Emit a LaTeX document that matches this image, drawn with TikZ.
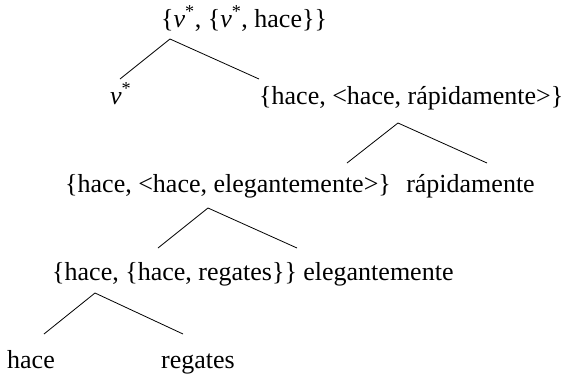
\documentclass[tikz,border=0pt]{standalone}
\usepackage{fontspec}
\setmainfont{Liberation Serif}
\usepackage{tikz}
\usetikzlibrary{positioning}

\newcommand{\vstar}{\textit{v}\textsuperscript{*}}

\begin{document}
\begin{tikzpicture}[
  x=1pt, y=-1pt,
  word/.style={inner sep=0pt, anchor=base west,
               font=\fontsize{26}{30}\selectfont},
  branch/.style={line width=0.8pt}
]
  \useasboundingbox (0,0) rectangle (571,373);

  % === root ===
  \node[word] (root) at (161,27) {\{\vstar, \{\vstar, hace\}\}};
  \coordinate (root-a) at (170,39);
  \coordinate (root-l) at (120,79);
  \coordinate (root-r) at (259,79);
  \draw[branch] (root-a) -- (root-l);
  \draw[branch] (root-a) -- (root-r);

  % === v* and first adjunct ===
  \node[word] (vst) at (110,104) {\vstar};
  \node[word] (vpR) at (259,104) {\{hace, <hace, rápidamente>\}};
  \coordinate (vpR-a) at (398,123);
  \coordinate (vpR-l) at (347,163);
  \coordinate (vpR-r) at (487,163);
  \draw[branch] (vpR-a) -- (vpR-l);
  \draw[branch] (vpR-a) -- (vpR-r);

  % === second adjunct ===
  \node[word] (vpE) at (65,192) {\{hace, <hace, elegantemente>\}};
  \node[word, base right=15pt of vpE] (advR) {rápidamente};
  \coordinate (vpE-a) at (208,208);
  \coordinate (vpE-l) at (158,248);
  \coordinate (vpE-r) at (297,248);
  \draw[branch] (vpE-a) -- (vpE-l);
  \draw[branch] (vpE-a) -- (vpE-r);

  % === verb phrase ===
  \node[word] (vpV) at (52,280) {\{hace, \{hace, regates\}\}};
  \node[word, base right=6pt of vpV] (advE) {elegantemente};
  \coordinate (vpV-a) at (95,293);
  \coordinate (vpV-l) at (44,334);
  \coordinate (vpV-r) at (183,334);
  \draw[branch] (vpV-a) -- (vpV-l);
  \draw[branch] (vpV-a) -- (vpV-r);

  % === leaves ===
  \node[word] (verb) at (7,368) {hace};
  \node[word] (obj) at (161,368) {regates};
\end{tikzpicture}
\end{document}
